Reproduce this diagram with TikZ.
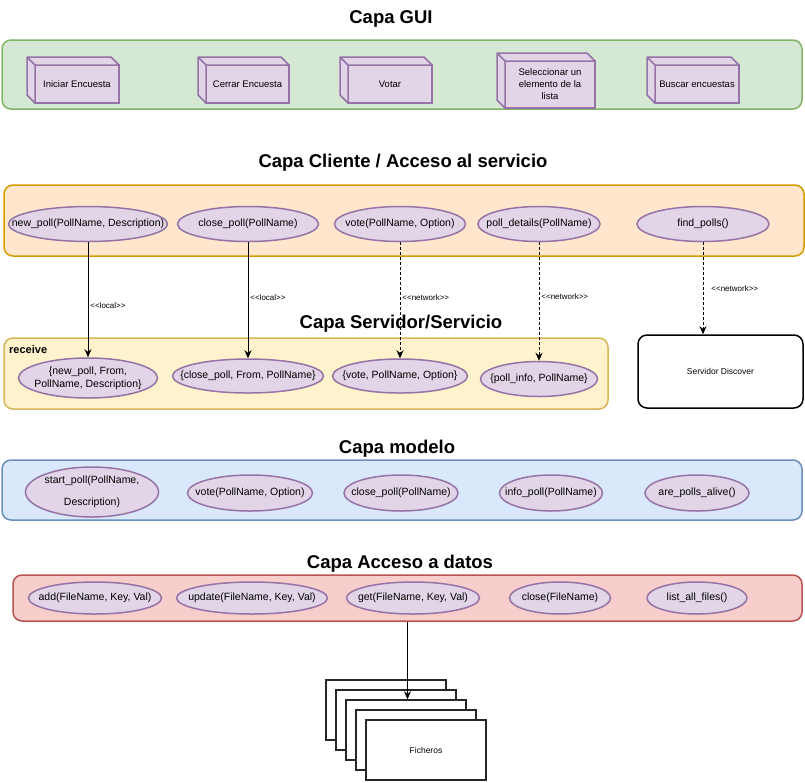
\documentclass[tikz,border=0pt]{standalone}
\usepackage{fontspec}
\setmainfont{Liberation Sans}
\usetikzlibrary{arrows.meta, shapes.geometric}
\definecolor{guifill}{HTML}{D5E8D4}
\definecolor{guiline}{HTML}{82B366}
\definecolor{clifill}{HTML}{FFE6CC}
\definecolor{cliline}{HTML}{D79B00}
\definecolor{srvfill}{HTML}{FFF2CC}
\definecolor{srvline}{HTML}{D6B656}
\definecolor{modfill}{HTML}{DAE8FC}
\definecolor{modline}{HTML}{6C8EBF}
\definecolor{datfill}{HTML}{F8CECC}
\definecolor{datline}{HTML}{B85450}
\definecolor{opfill}{HTML}{E1D5E7}
\definecolor{opline}{HTML}{9673A6}

\begin{document}
\begin{tikzpicture}[x=1pt, y=-1pt,
        layer/.style={rectangle, rounded corners=9pt, line width=1.5pt, inner sep=0pt},
        cube/.style={rectangle, draw=opline, fill=opfill, line width=1.5pt, inner sep=0pt, outer sep=0pt, align=center, font=\fontsize{9.5}{12}\selectfont},
        cubeside/.style={draw=opline, fill=opfill, line width=1.5pt, line join=round},
        op/.style={ellipse, draw=opline, fill=opfill, line width=1.5pt, inner sep=0pt, font=\fontsize{10.5}{12}\selectfont},
        title/.style={font=\fontsize{18.5}{20}\selectfont\bfseries},
        lbl/.style={right, inner sep=2pt, font=\fontsize{8}{9}\selectfont},
        fichero/.style={rectangle, draw=black!85, fill=white, line width=1.5pt, minimum width=120pt, minimum height=60pt, font=\fontsize{8.5}{10}\selectfont},
        lcall/.style={-{Stealth[length=8pt, width=7pt]}, line width=0.8pt},
        ncall/.style={lcall, dash pattern=on 3pt off 2pt}]
            \useasboundingbox (0,0) rectangle (805,782);

            \node[title] (tgui) at (391,19) {Capa GUI};
            \node[layer, draw=guiline, fill=guifill, minimum width=800pt, minimum height=69pt] (gui) at (402,74.5) {};
            \node[cube, minimum width=84pt, minimum height=38pt] (iniciar) at (77,84) {Iniciar Encuesta};
            \node[cube, minimum width=83pt, minimum height=38pt] (cerrar) at (247.5,84) {Cerrar Encuesta};
            \node[cube, minimum width=84pt, minimum height=38pt] (votar) at (390,84) {Votar};
            \node[cube, minimum width=90pt, minimum height=47pt] (selec) at (550,84.5) {Seleccionar un\\elemento de la\\lista};
            \node[cube, minimum width=84pt, minimum height=38pt] (buscar) at (697,84) {Buscar encuestas};
            \foreach \n in {iniciar, cerrar, votar, selec, buscar}
                \draw[cubeside] (\n.south west) -- ++(-8,-8) -- ([shift={(-8,-8)}]\n.north west) -- ([shift={(-8,-8)}]\n.north east) -- (\n.north east) -- (\n.north west) -- cycle (\n.north west) -- ++(-8,-8);

            \node[title] (tcli) at (403,163) {Capa Cliente / Acceso al servicio};
            \node[layer, draw=cliline, fill=clifill, minimum width=800pt, minimum height=71pt] (cliente) at (404,220.5) {};
            \node[op, minimum width=159pt, minimum height=35pt] (newpoll) at (88,224) {\makebox[0pt]{new\_poll(PollName, Description)}};
            \node[op, minimum width=141pt, minimum height=35pt] (closepoll) at (248,224) {\makebox[0pt]{close\_poll(PollName)}};
            \node[op, minimum width=131pt, minimum height=35pt] (vote) at (400,224) {\makebox[0pt]{vote(PollName, Option)}};
            \node[op, minimum width=122pt, minimum height=35pt] (polldetails) at (539,224) {\makebox[0pt]{poll\_details(PollName)}};
            \node[op, minimum width=132pt, minimum height=35pt] (findpolls) at (703,224) {\makebox[0pt]{find\_polls()}};

            \node[title] (tsrv) at (401,324) {Capa Servidor/Servicio};
            \node[layer, draw=srvline, fill=srvfill, minimum width=604pt, minimum height=71pt] (servidor) at (306,373.5) {};
            \node[anchor=west, inner sep=0pt, font=\fontsize{11}{13}\selectfont\bfseries] (receive) at (9,350) {receive};
            \node[op, minimum width=139pt, minimum height=40pt] (rnewpoll) at (88,378) {\makebox[0pt]{\shortstack{\{new\_poll, From,\\PollName, Description\}}}};
            \node[op, minimum width=151pt, minimum height=34pt] (rclose) at (248,376) {\makebox[0pt]{\{close\_poll, From, PollName\}}};
            \node[op, minimum width=135pt, minimum height=34pt] (rvote) at (400,376) {\makebox[0pt]{\{vote, PollName, Option\}}};
            \node[op, minimum width=117pt, minimum height=35pt] (rinfo) at (539,379) {\makebox[0pt]{\{poll\_info, PollName\}}};
            \node[layer, draw=black, fill=white, minimum width=165pt, minimum height=73pt, font=\fontsize{8.5}{10}\selectfont] (discover) at (720.5,371.5) {Servidor Discover};

            \draw[lcall] (newpoll) -- (rnewpoll) node[lbl, pos=0.55] {{<}{<}local{>}{>}};
            \draw[lcall] (closepoll) -- (rclose) node[lbl, pos=0.48] {{<}{<}local{>}{>}};
            \draw[ncall] (vote) -- (rvote) node[lbl, pos=0.48] {{<}{<}network{>}{>}};
            \draw[ncall] (polldetails) -- (rinfo) node[lbl, pos=0.46] {{<}{<}network{>}{>}};
            \draw[ncall] (findpolls) -- (findpolls |- discover.north) node[lbl, pos=0.5, xshift=6pt] {{<}{<}network{>}{>}};

            \node[title] (tmod) at (397,449) {Capa modelo};
            \node[layer, draw=modline, fill=modfill, minimum width=800pt, minimum height=60pt] (modelo) at (402,490) {};
            \node[op, minimum width=133pt, minimum height=50pt] (startpoll) at (92,492) {\makebox[0pt]{\shortstack{start\_poll(PollName,\\[9pt]Description)}}};
            \node[op, minimum width=125pt, minimum height=36pt] (mvote) at (250,493) {\makebox[0pt]{vote(PollName, Option)}};
            \node[op, minimum width=114pt, minimum height=36pt] (mclose) at (401,493) {\makebox[0pt]{close\_poll(PollName)}};
            \node[op, minimum width=103pt, minimum height=36pt] (minfo) at (551,493) {\makebox[0pt]{info\_poll(PollName)}};
            \node[op, minimum width=104pt, minimum height=36pt] (malive) at (697,493) {\makebox[0pt]{are\_polls\_alive()}};

            \node[title] (tdat) at (400,564) {Capa Acceso a datos};
            \node[layer, draw=datline, fill=datfill, minimum width=789pt, minimum height=46pt] (datos) at (407.5,598) {};
            \node[op, minimum width=133pt, minimum height=32pt] (add) at (95,598) {\makebox[0pt]{add(FileName, Key, Val)}};
            \node[op, minimum width=151pt, minimum height=32pt] (update) at (252,598) {\makebox[0pt]{update(FileName, Key, Val)}};
            \node[op, minimum width=133pt, minimum height=32pt] (get) at (413,598) {\makebox[0pt]{get(FileName, Key, Val)}};
            \node[op, minimum width=101pt, minimum height=32pt] (close) at (560,598) {\makebox[0pt]{close(FileName)}};
            \node[op, minimum width=100pt, minimum height=32pt] (listall) at (697,598) {\makebox[0pt]{list\_all\_files()}};

            \foreach \i/\t in {0/{},1/{},2/{},3/{},4/Ficheros}
                \node[fichero] (f\i) at ({386+10*\i},{710+10*\i}) {\t};
            \draw[lcall] (datos.south) -- (datos.south |- f2.north);
\end{tikzpicture}
\end{document}
